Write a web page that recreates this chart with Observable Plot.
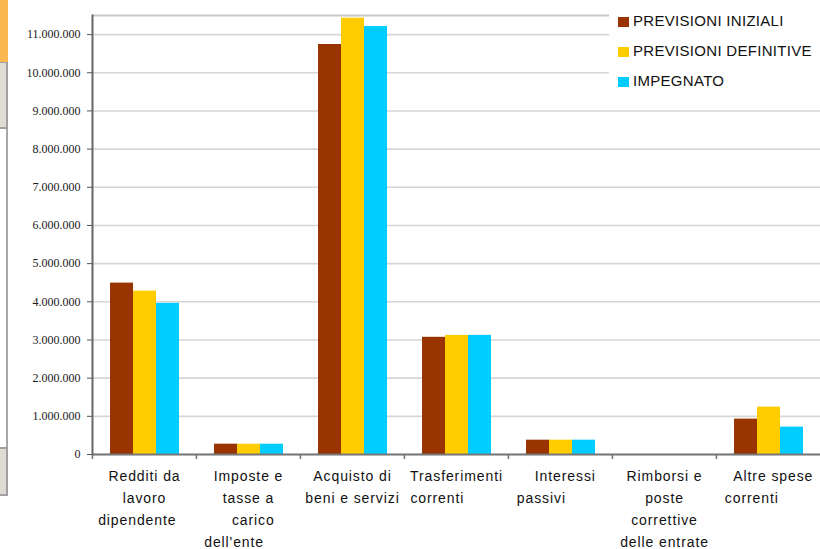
<!DOCTYPE html>
<html>
<head>
<meta charset="utf-8">
<script src="https://cdn.jsdelivr.net/npm/d3@7"></script>
<script src="https://cdn.jsdelivr.net/npm/@observablehq/plot@0.6"></script>
<style>
  html, body { margin: 0; padding: 0; background: #fff; }
  #wrap { position: relative; width: 820px; height: 549px; overflow: hidden; }
  #legend { position: absolute; left: 609px; top: 0; width: 211px; height: 100px; background: #fff;
            font-family: "Liberation Sans", Arial, sans-serif; font-size: 15px; letter-spacing: 0.3px; color: #111; }
  .item { position: absolute; left: 9px; height: 14px; line-height: 14px; white-space: nowrap; }
  .sw { display: inline-block; width: 11px; height: 10px; margin-right: 4px; vertical-align: -1px; }
  .deco { position: absolute; box-sizing: border-box; }
  g[aria-label="fx-axis tick label"] text { letter-spacing: 0.9px; font-family: "Liberation Sans", Arial, sans-serif; }
</style>
</head>
<body>
<div id="wrap"></div>
<script>
// ---- data ----
const categories = [
  "Redditi da lavoro dipendente",
  "Imposte e tasse a carico dell'ente",
  "Acquisto di beni e servizi",
  "Trasferimenti correnti",
  "Interessi passivi",
  "Rimborsi e poste correttive delle entrate",
  "Altre spese correnti"
];
const nb = "\u00a0";
const categoryLabels = [
  "Redditi da\nlavoro\ndipendente" + nb.repeat(3),
  "Imposte e\ntasse a\n" + nb.repeat(2) + "carico\ndell'ente" + nb.repeat(6),
  "Acquisto di\nbeni e servizi",
  "Trasferimenti\ncorrenti" + nb.repeat(8),
  nb.repeat(2) + "Interessi\npassivi" + nb.repeat(8),
  "Rimborsi e\nposte\ncorrettive\ndelle entrate",
  nb.repeat(2) + "Altre spese\ncorrenti" + nb.repeat(7)
];
const series = ["PREVISIONI INIZIALI", "PREVISIONI DEFINITIVE", "IMPEGNATO"];
const previsioniIniziali   = [4490000, 270000, 10740000, 3070000, 375000, 0,  927000];
const previsioniDefinitive = [4280000, 270000, 11430000, 3120000, 375000, 0, 1240000];
const impegnato            = [3960000, 270000, 11210000, 3120000, 375000, 0,  717000];
const seriesValues = [previsioniIniziali, previsioniDefinitive, impegnato];
const colors = ["#993300", "#FFCC00", "#00CCFF"];
const yTicks = [0, 1000000, 2000000, 3000000, 4000000, 5000000, 6000000, 7000000, 8000000, 9000000, 10000000, 11000000];
const yMax = 11500000;

const table = categories.flatMap((c, i) => series.map((s, j) => ({cat: c, series: s, value: seriesValues[j][i]})));
const itFormat = d3.formatLocale({decimal: ",", thousands: ".", grouping: [3], currency: ["€", ""]}).format(",d");

const W = 820, H = 549, mL = 91, mR = 0, mT = 15, mB = 95;
const facetStep = (W - mL - mR) / categories.length;

const chart = Plot.plot({
  width: W, height: H,
  marginLeft: mL, marginRight: mR, marginTop: mT, marginBottom: mB,
  style: {background: "#fff"},
  fx: {domain: categories, padding: 0},
  x: {domain: series, paddingInner: 0, paddingOuter: 0.7, axis: null},
  y: {domain: [0, yMax]},
  color: {domain: series, range: colors},
  marks: [
    Plot.gridY(yTicks, {stroke: "#d6d6d6", strokeOpacity: 1, strokeWidth: 1.6}),
    Plot.ruleY([yMax], {stroke: "#c6c6c6", strokeWidth: 2}),
    Plot.barY(table, {fx: "cat", x: "series", y: "value", fill: "series"}),
    Plot.ruleY([0], {stroke: "#777", strokeWidth: 2}),
    Plot.frame({anchor: "left", facetAnchor: "left", stroke: "#666", strokeWidth: 2}),
    Plot.axisY({ticks: yTicks, tickFormat: itFormat, tickSize: 5, tickPadding: 7, fontSize: 12,
                fontFamily: "Liberation Serif", stroke: "#555", fill: "#1a1a1a", label: null}),
    Plot.axisFx({anchor: "bottom", tickSize: 5, tickFormat: () => "", dx: -facetStep / 2,
                 stroke: "#777", strokeWidth: 1.6, label: null}),
    Plot.axisFx({anchor: "bottom", tickSize: 0, tickPadding: 11, lineAnchor: "top",
                 tickFormat: d => categoryLabels[categories.indexOf(d)],
                 fontSize: 14, lineHeight: 1.57, fontFamily: "Liberation Sans", fill: "#111", label: null})
  ]
});

// make sure the y tick labels use the serif face (inline style wins over any stylesheet)
const yLabelSet = new Set(yTicks.map(itFormat));
chart.querySelectorAll("text").forEach(t => {
  if (yLabelSet.has(t.textContent.trim())) {
    t.style.setProperty("font-family", "'Liberation Serif', 'Times New Roman', serif", "important");
    t.style.setProperty("font-size", "12px", "important");
  }
});

const wrap = document.getElementById("wrap");
wrap.appendChild(chart);

// legend
const legend = document.createElement("div");
legend.id = "legend";
const legendTops = [14, 44, 74];
series.forEach((s, i) => {
  const it = document.createElement("div");
  it.className = "item";
  it.style.top = legendTops[i] + "px";
  it.innerHTML = `<span class="sw" style="background:${colors[i]}"></span>${s}`;
  legend.appendChild(it);
});
wrap.appendChild(legend);

// spreadsheet UI fragments along the left edge
[
  {left: 0, top: 0, width: 8, height: 62, background: "#fbb851"},
  {left: 0, top: 62, width: 8, height: 67, background: "#e0dcd6", borderWidth: "1px 2px 2px 0"},
  {left: 6, top: 129, width: 2, height: 318, background: "#a8a8a8"},
  {left: 0, top: 447, width: 8, height: 49, background: "#dedad4", borderWidth: "2px 2px 2px 0"}
].forEach(d => {
  const el = document.createElement("div");
  el.className = "deco";
  Object.assign(el.style, {left: d.left + "px", top: d.top + "px", width: d.width + "px", height: d.height + "px",
                           background: d.background});
  if (d.borderWidth) { el.style.borderStyle = "solid"; el.style.borderColor = "#a0a0a0"; el.style.borderWidth = d.borderWidth; }
  wrap.appendChild(el);
});
</script>
</body>
</html>
